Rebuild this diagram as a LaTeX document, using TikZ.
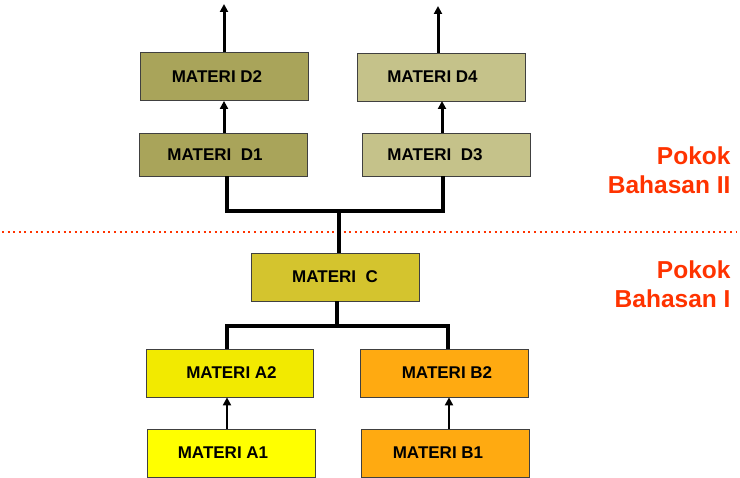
\documentclass[tikz,border=0pt]{standalone}
\usepackage{fontspec}
\setmainfont{Liberation Sans}
\usetikzlibrary{arrows.meta}
\definecolor{colD}{HTML}{A9A45A}
\definecolor{colDD}{HTML}{C5C28A}
\definecolor{colC}{HTML}{D4C42E}
\definecolor{colAtwo}{HTML}{F2EA00}
\definecolor{colAone}{HTML}{FFFF00}
\definecolor{colB}{HTML}{FFAA11}
\definecolor{redtxt}{HTML}{FF3300}
\begin{document}
\begin{tikzpicture}[x=1pt,y=-1pt,
  box/.style={draw=black!75,line width=0.8pt,minimum width=168pt,minimum height=48pt,inner sep=0pt,font=\fontsize{17}{18}\selectfont\bfseries},
  bus/.style={line width=3.2pt},
  uparr/.style={line width=3pt,-{Triangle[length=8pt,width=8pt]}},
  thinarr/.style={line width=1.9pt,-{Triangle[length=8pt,width=8pt]}},
  pokok/.style={text=redtxt,font=\fontsize{24.5}{29}\selectfont\bfseries,align=right,anchor=east}]
\useasboundingbox (0,0) rectangle (740,478);
% top layer
\node[box,fill=colD] (d2) at (224,76.5) {MATERI D2\kern14pt};
\node[box,fill=colDD] (d4) at (441.5,77) {MATERI D4\kern18pt};
\node[box,fill=colD,minimum height=43pt] (d1) at (223,154.5) {MATERI\ \ D1\kern16pt};
\node[box,fill=colDD,minimum height=43pt] (d3) at (446,154.5) {MATERI\ \ D3\kern22pt};
\coordinate (d2out) at (224,4);
\coordinate (d4out) at (438,6);
\draw[uparr] (d2.north) -- (d2out);
\draw[uparr] (d4out |- d4.north) -- (d4out);
\draw[uparr] (d1.north -| d2.north) -- (d2.south);
\draw[uparr] (d3.north -| 442,0) -- (442,101);
% bus D
\coordinate (busd) at (339,211);
\draw[bus] ([xshift=4pt]d1.south) |- (busd) -| ([xshift=-3pt]d3.south);
% divider
\coordinate (divl) at (2,232);
\coordinate (divr) at (736,232);
\draw[redtxt,line width=2pt,dash pattern=on 2pt off 3.6pt] (divl) -- (divr);
% C
\node[box,fill=colC] (c) at (335,277) {MATERI\ \ C};
\draw[bus] (busd) -- (c.north -| busd);
\coordinate (busc) at (337,326);
\draw[bus] (c.south -| busc) -- (busc);
% A/B
\node[box,fill=colAtwo,minimum width=167pt] (a2) at (229.5,373) {\kern4pt MATERI A2};
\node[box,fill=colB] (b2) at (444,373) {\kern6pt MATERI B2};
\node[box,fill=colAone] (a1) at (231,453) {MATERI A1\kern16pt};
\node[box,fill=colB] (b1) at (445,453) {MATERI B1\kern14pt};
\draw[bus] (a2.north -| 227,0) |- (busc) -| (b2.north -| 448,0);
\draw[thinarr] (a1.north -| 227,0) -- (a2.south -| 227,0);
\draw[thinarr] (b1.north -| 449,0) -- (b2.south -| 449,0);
% labels
\node[pokok] (p2) at (734,170) {Pokok\\Bahasan II};
\node[pokok] (p1) at (734,284) {Pokok\\Bahasan I};
\end{tikzpicture}
\end{document}
